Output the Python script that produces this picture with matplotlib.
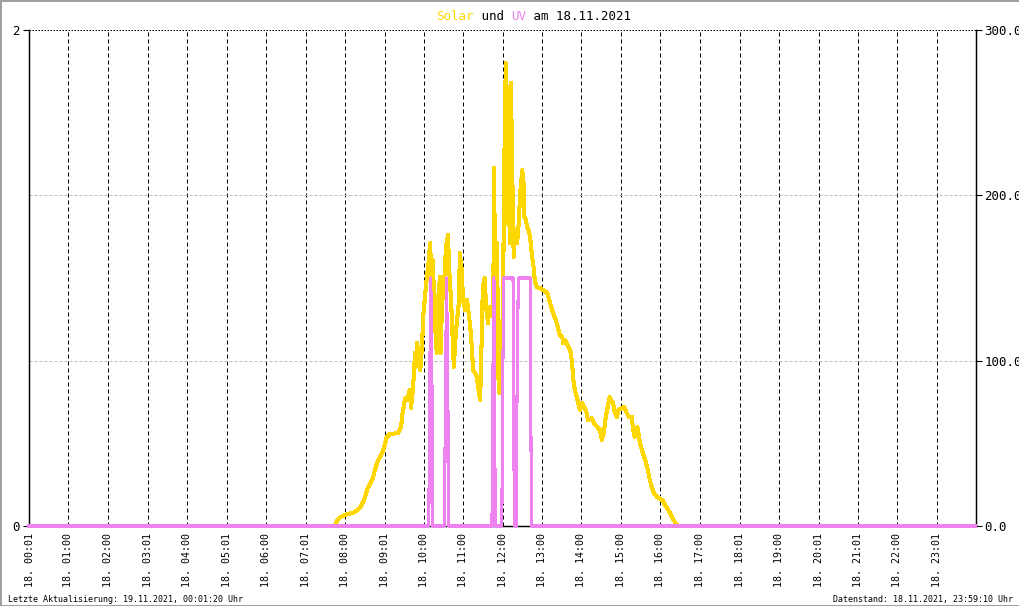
import matplotlib.pyplot as plt

plt.rcParams['font.family'] = ['DejaVu Sans Mono']

# Solar (W/m^2, rechte Achse) - Minuten seit 00:00
solar_min = [0, 465, 468, 473, 484, 493, 500, 506, 511, 515, 522, 526, 531, 537, 541, 544, 549,
             561, 566, 567, 569, 572, 575, 579, 581, 584, 585, 587, 588, 590, 595, 598, 599, 602,
             605, 607, 610, 613, 614, 617, 620, 622, 625, 626, 628, 631, 634, 637, 639, 642, 643,
             646, 649, 651, 654, 655, 658, 660, 663, 666, 668, 671, 674, 675, 678, 681, 683, 686,
             689, 690, 693, 695, 698, 700, 704, 706, 707, 710, 712, 713, 715, 718, 719, 721, 722,
             725, 727, 728, 731, 733, 734, 737, 739, 742, 744, 747, 750, 752, 753, 756, 757, 760,
             763, 765, 768, 769, 772, 777, 782, 788, 791, 794, 797, 801, 804, 807, 811, 812, 815,
             820, 823, 826, 827, 830, 833, 835, 838, 841, 845, 848, 850, 856, 859, 864, 868, 871,
             874, 877, 880, 883, 887, 888, 891, 894, 896, 902, 905, 909, 912, 917, 918, 921, 925,
             926, 929, 932, 937, 941, 944, 947, 950, 955, 963, 967, 972, 978, 982, 987, 1439]
solar_val = [0, 0, 3.0, 5.4, 7.3, 7.9, 9.7, 12.7, 17.5, 23.0, 27.8, 33.9, 39.9, 44.2, 49.0, 53.8, 55.6,
             56.2, 59.9, 65.9, 70.2, 77.4, 76.2, 82.3, 71.4, 84.1, 90.1, 104.6, 96.2, 110.7, 94.3, 110.7, 124.6, 138.5,
             150.6, 156.6, 171.2, 132.5, 160.9, 124.6, 104.6, 136.7, 150.6, 104.6, 134.9, 144.5, 168.7, 176.0, 154.8, 134.9, 124.6,
             96.2, 116.7, 124.6, 136.7, 165.1, 154.8, 136.7, 130.6, 136.7, 130.6, 120.4, 104.6, 94.3, 92.5, 90.1, 84.1, 76.2,
             122.8, 144.5, 150.0, 132.5, 122.8, 132.5, 132.5, 126.4, 216.5, 114.3, 171.2, 96.2, 80.4, 80.4, 114.3, 134.9, 199.0,
             280.0, 183.3, 265.5, 171.2, 267.9, 233.5, 162.7, 179.0, 171.2, 179.0, 201.4, 215.3, 207.4, 186.9, 185.1, 180.8, 179.0,
             171.2, 162.7, 154.8, 148.8, 144.5, 143.9, 142.7, 140.9, 136.7, 132.5, 128.8, 124.6, 120.4, 115.5, 114.3, 110.7, 112.5,
             108.3, 106.4, 98.6, 90.1, 82.3, 78.0, 74.4, 70.2, 74.4, 71.4, 68.3, 64.1, 65.3, 62.3, 59.9, 58.1, 52.0,
             56.2, 65.9, 72.0, 78.0, 75.0, 74.4, 68.3, 65.9, 70.2, 71.4, 72.0, 68.3, 65.9, 65.9, 59.9, 53.8, 59.9,
             58.1, 50.2, 46.0, 39.9, 33.9, 27.8, 23.6, 20.0, 17.5, 15.7, 12.7, 9.7, 5.4, 2.4, 0, 0]

# UV-Index (linke Achse)
uv_min = [0, 608, 609, 611, 613, 614, 632, 633, 635, 637, 638, 704, 705, 707, 708, 709,
          719, 720, 722, 736, 737, 738, 741, 742, 744, 762, 763, 764, 1439]
uv_val = [0, 0, 0.5, 1, 0.5, 0, 0, 0.5, 1, 0.5, 0, 0, 0.5, 1, 0.5, 0,
          0, 0.5, 1, 1, 0.5, 0, 0, 0.5, 1, 1, 0.5, 0, 0]

tick_min = [1, 60, 120, 181, 240, 301, 360, 421, 480, 541, 600, 660, 720, 780, 840, 900,
            960, 1020, 1081, 1140, 1201, 1261, 1320, 1381]
tick_lbl = ['18. 00:01', '18. 01:00', '18. 02:00', '18. 03:01', '18. 04:00', '18. 05:01',
            '18. 06:00', '18. 07:01', '18. 08:00', '18. 09:01', '18. 10:00', '18. 11:00',
            '18. 12:00', '18. 13:00', '18. 14:00', '18. 15:00', '18. 16:00', '18. 17:00',
            '18. 18:01', '18. 19:00', '18. 20:01', '18. 21:01', '18. 22:00', '18. 23:01']

W, H = 1020, 606
fig = plt.figure(figsize=(W / 100, H / 100), dpi=100, linewidth=2, edgecolor='#a0a0a0')
ax = fig.add_axes([29 / W, (H - 526) / H, (976 - 29) / W, (526 - 30) / H])
ax2 = ax.twinx()

# Solar auf ax (Skala rechts), UV auf ax2 (Skala links, oben drauf)
ax.plot(solar_min, solar_val, color='#ffd700', lw=2.2, clip_on=False, zorder=3, antialiased=False)
ax2.plot(uv_min, uv_val, color='#ee82ee', lw=1.5, clip_on=False, zorder=3, antialiased=False)

ax.set_xlim(0, 1440)
ax.set_ylim(0, 300)
ax2.set_ylim(0, 2)

ax.set_xticks(tick_min)
ax.set_xticklabels(tick_lbl, rotation=90, fontsize=7.2)
ax.tick_params(axis='x', length=0, pad=5)
for t in tick_min[1:]:
    ax.axvline(t, color='black', lw=0.72, ls=(0, (4, 3)), zorder=1)
for v in [100, 200]:
    ax.axhline(v, color='#bdbdbd', lw=0.72, ls=(0, (3, 2)), zorder=1)
ax.axhline(300, color='black', lw=0.72, ls=(0, (1.5, 1.5)), zorder=1, clip_on=False)

ax.yaxis.tick_right()
ax.set_yticks([0, 100, 200, 300])
ax.set_yticklabels(['0.0', '100.0', '200.0', '300.0'], fontsize=9)
ax.tick_params(axis='y', length=4, width=0.8, pad=2)

ax2.yaxis.tick_left()
ax2.set_yticks([0, 2])
ax2.set_yticklabels(['0', '2'], fontsize=9)
ax2.tick_params(axis='y', length=4.5, width=0.8, pad=2)

for a in (ax, ax2):
    a.spines['top'].set_visible(False)
    for s in ('left', 'right', 'bottom'):
        a.spines[s].set_linewidth(0.9)

# Titel mehrfarbig (Monospace -> Zeichenbreite fest)
adv = 9 * 100 / 72 * 0.602
x0 = 436
parts = [('Solar', '#ffd700'), (' und ', 'black'), ('UV', '#ee82ee'), (' am 18.11.2021', 'black')]
n = 0
for s, c in parts:
    fig.text((x0 + n * adv) / W, (H - 20) / H, s, color=c, fontsize=9, va='baseline', ha='left')
    n += len(s)

fig.text(8 / W, (H - 602) / H, 'Letzte Aktualisierung: 19.11.2021, 00:01:20 Uhr', fontsize=6, va='baseline')
fig.text(1013 / W, (H - 602) / H, 'Datenstand: 18.11.2021, 23:59:10 Uhr', fontsize=6, va='baseline', ha='right')

fig.savefig('out.png', dpi=100)
